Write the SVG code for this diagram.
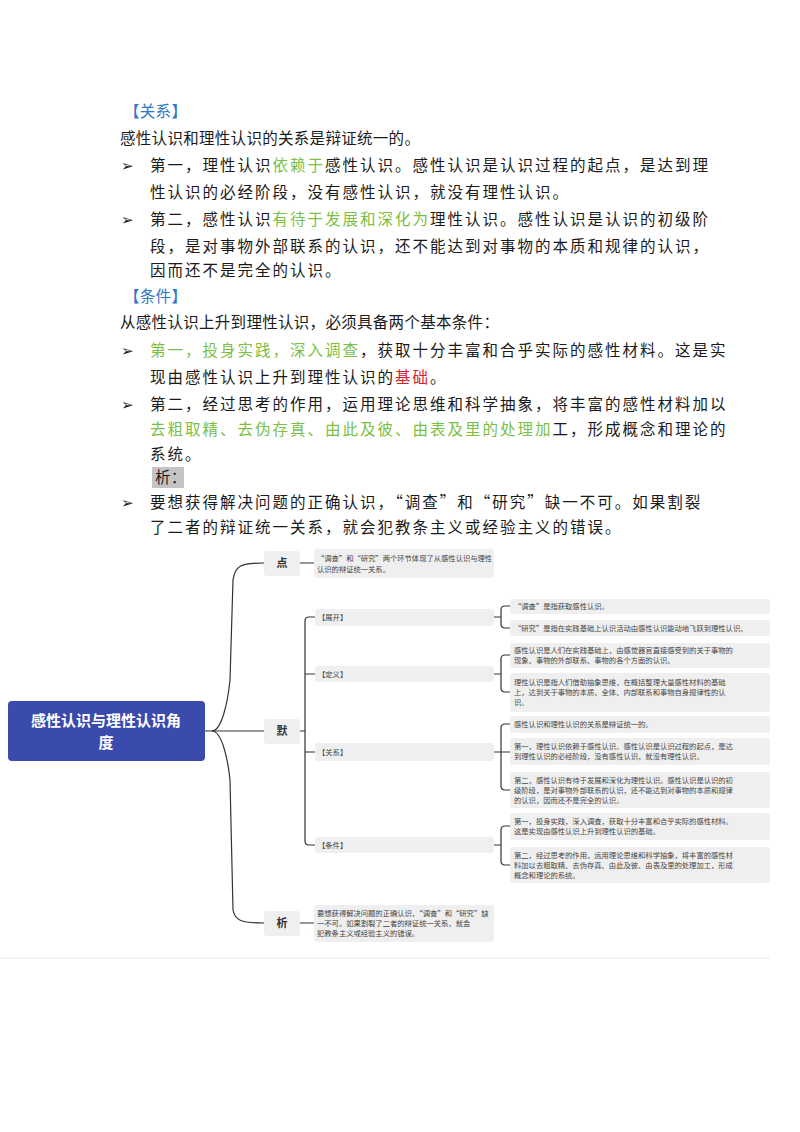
<svg xmlns="http://www.w3.org/2000/svg" width="800" height="1132" viewBox="0 0 800 1132">
<style>
.t{font-family:"Noto Sans CJK SC","Noto Sans",sans-serif;font-size:15.5px;fill:#1a1a1a;letter-spacing:2px}
.p{font-family:"Noto Sans CJK SC","Noto Sans",sans-serif;font-size:15.5px;fill:#1a1a1a;letter-spacing:0.3px}
.b{font-family:"DejaVu Sans",sans-serif;font-size:15px;font-weight:bold;fill:#1a1a1a}
.g{fill:#7cbf44}.r{fill:#d6202c}.h{fill:#2f78c4}
.box{fill:#efefef}
.s{font-family:"Noto Sans CJK SC","Noto Sans",sans-serif;font-size:7.3px;fill:#444}
.k{font-family:"Noto Sans CJK SC",sans-serif;font-size:11px;font-weight:bold;fill:#333}
.ln{fill:none;stroke:#333;stroke-width:1.2}
</style>
<rect width="800" height="1132" fill="#fff"/>
<g id="text">
<text class="p h" x="124" y="117">【关系】</text>
<text class="p" x="120" y="144">感性认识和理性认识的关系是辩证统一的。</text>
<text class="b" x="121" y="171">➢</text>
<text class="t" x="150" y="171">第一，理性认识<tspan class="g">依赖于</tspan>感性认识。感性认识是认识过程的起点，是达到理</text>
<text class="t" x="150" y="198">性认识的必经阶段，没有感性认识，就没有理性认识。</text>
<text class="b" x="121" y="225">➢</text>
<text class="t" x="150" y="225">第二，感性认识<tspan class="g">有待于发展和深化为</tspan>理性认识。感性认识是认识的初级阶</text>
<text class="t" x="150" y="252">段，是对事物外部联系的认识，还不能达到对事物的本质和规律的认识，</text>
<text class="t" x="150" y="276">因而还不是完全的认识。</text>
<text class="p h" x="124" y="302">【条件】</text>
<text class="p" x="120" y="328">从感性认识上升到理性认识，必须具备两个基本条件：</text>
<text class="b" x="121" y="356">➢</text>
<text class="t" x="150" y="356"><tspan class="g">第一，投身实践，深入调查</tspan>，获取十分丰富和合乎实际的感性材料。这是实</text>
<text class="t" x="150" y="383">现由感性认识上升到理性认识的<tspan class="r">基础</tspan>。</text>
<text class="b" x="121" y="410">➢</text>
<text class="t" x="150" y="410">第二，经过思考的作用，运用理论思维和科学抽象，将丰富的感性材料加以</text>
<text class="t" x="150" y="435"><tspan class="g">去粗取精、去伪存真、由此及彼、由表及里的处理加</tspan>工，形成概念和理论的</text>
<text class="t" x="150" y="460">系统。</text>
<rect x="152" y="467" width="32" height="21" fill="#c4c4c4"/>
<text class="p" x="155" y="483">析：</text>
<text class="b" x="121" y="508">➢</text>
<text class="t" x="150" y="508">要想获得解决问题的正确认识，“调查”和“研究”缺一不可。如果割裂</text>
<text class="t" x="150" y="533">了二者的辩证统一关系，就会犯教条主义或经验主义的错误。</text>
</g>
<g id="connectors">
<path class="ln" d="M205 731 H212 M212 731 C222 731 228 700 230 680 L233 580 C235 566 240 563 264 563"/>
<path class="ln" d="M212 731 C222 731 228 760 230 780 L233 910 C235 920 240 923 264 923"/>
<path class="ln" d="M212 731 H264"/>
<path class="ln" d="M300 563 H314 M300 731 H305 M300 923 H314"/>
<path class="ln" d="M315 617 H309 Q305 617 305 621 V841 Q305 845 309 845 H315"/>
<path class="ln" d="M305 674 H315 M305 752 H315"/>
<path class="ln" d="M494 617 H501 M510 606 H505 Q501 606 501 610 V624 Q501 628 505 628 H510"/>
<path class="ln" d="M494 674 H501 M510 655 H505 Q501 655 501 659 V688 Q501 692 505 692 H510"/>
<path class="ln" d="M494 752 H501 M510 724 H505 Q501 724 501 728 V786 Q501 790 505 790 H510 M501 752 H510"/>
<path class="ln" d="M494 845 H501 M510 826 H505 Q501 826 501 830 V861 Q501 865 505 865 H510"/>
</g>
<g id="root"><rect x="8" y="701" width="197" height="60" rx="4" fill="#3a4aad"/>
<text x="106" y="726" text-anchor="middle" font-family="Noto Sans CJK SC,sans-serif" font-size="15" font-weight="bold" fill="#fff">感性认识与理性认识角</text>
<text x="106" y="748" text-anchor="middle" font-family="Noto Sans CJK SC,sans-serif" font-size="15" font-weight="bold" fill="#fff">度</text></g>
<g id="n-dian"><rect class="box" x="264" y="551" width="36" height="25" rx="3"/><text class="k" x="282" y="567" text-anchor="middle">点</text></g>
<g id="n-mo"><rect class="box" x="264" y="719" width="36" height="25" rx="3"/><text class="k" x="282" y="735" text-anchor="middle">默</text></g>
<g id="n-xi"><rect class="box" x="264" y="911" width="36" height="25" rx="3"/><text class="k" x="282" y="927" text-anchor="middle">析</text></g>
<g id="dian-text"><rect class="box" x="314" y="549" width="180" height="29" rx="3"/>
<text class="s" x="317" y="561">“调查”和“研究”两个环节体现了从感性认识与理性</text><text class="s" x="317" y="572">认识的辩证统一关系。</text></g>
<g id="zhankai"><rect class="box" x="315" y="609" width="179" height="17" rx="3"/><text class="s" x="318" y="620">【展开】</text></g>
<g id="dingyi"><rect class="box" x="315" y="666" width="179" height="16" rx="3"/><text class="s" x="318" y="677">【定义】</text></g>
<g id="guanxi"><rect class="box" x="315" y="743" width="179" height="18" rx="3"/><text class="s" x="318" y="755">【关系】</text></g>
<g id="tiaojian"><rect class="box" x="315" y="837" width="179" height="16" rx="3"/><text class="s" x="318" y="848">【条件】</text></g>
<g id="l1"><rect class="box" x="510" y="599" width="260" height="15" rx="3"/><text class="s" x="514" y="609">“调查”是指获取感性认识。</text></g>
<g id="l2"><rect class="box" x="510" y="620" width="260" height="16" rx="3"/><text class="s" x="514" y="631">“研究”是指在实践基础上认识活动由感性认识能动地飞跃到理性认识。</text></g>
<g id="l3"><rect class="box" x="510" y="643" width="260" height="25" rx="3"/><text class="s" x="514" y="653">感性认识是人们在实践基础上，由感觉器官直接感受到的关于事物的</text><text class="s" x="514" y="663">现象、事物的外部联系、事物的各个方面的认识。</text></g>
<g id="l4"><rect class="box" x="510" y="673" width="260" height="39" rx="3"/><text class="s" x="514" y="685">理性认识是指人们借助抽象思维，在概括整理大量感性材料的基础</text><text class="s" x="514" y="695">上，达到关于事物的本质、全体、内部联系和事物自身规律性的认</text><text class="s" x="514" y="705">识。</text></g>
<g id="l5"><rect class="box" x="510" y="716" width="260" height="17" rx="3"/><text class="s" x="514" y="727">感性认识和理性认识的关系是辩证统一的。</text></g>
<g id="l6"><rect class="box" x="510" y="738" width="260" height="27" rx="3"/><text class="s" x="514" y="749">第一，理性认识依赖于感性认识。感性认识是认识过程的起点，是达</text><text class="s" x="514" y="759">到理性认识的必经阶段，没有感性认识，就没有理性认识。</text></g>
<g id="l7"><rect class="box" x="510" y="772" width="260" height="36" rx="3"/><text class="s" x="514" y="783">第二，感性认识有待于发展和深化为理性认识。感性认识是认识的初</text><text class="s" x="514" y="793">级阶段，是对事物外部联系的认识，还不能达到对事物的本质和规律</text><text class="s" x="514" y="803">的认识，因而还不是完全的认识。</text></g>
<g id="l8"><rect class="box" x="510" y="813" width="260" height="27" rx="3"/><text class="s" x="514" y="824">第一，投身实践，深入调查，获取十分丰富和合乎实际的感性材料。</text><text class="s" x="514" y="834">这是实现由感性认识上升到理性认识的基础。</text></g>
<g id="l9"><rect class="box" x="510" y="847" width="260" height="36" rx="3"/><text class="s" x="514" y="858">第二，经过思考的作用，运用理论思维和科学抽象，将丰富的感性材</text><text class="s" x="514" y="868">料加以去粗取精、去伪存真、由此及彼、由表及里的处理加工，形成</text><text class="s" x="514" y="878">概念和理论的系统。</text></g>
<g id="xi-text"><rect class="box" x="314" y="905" width="180" height="37" rx="3"/>
<text class="s" x="317" y="916">要想获得解决问题的正确认识，“调查”和“研究”缺</text><text class="s" x="317" y="926">一不可。如果割裂了二者的辩证统一关系，就会</text><text class="s" x="317" y="936">犯教条主义或经验主义的错误。</text></g>
<rect x="0" y="957" width="770" height="2" fill="#f3f3f3"/>
</svg>
